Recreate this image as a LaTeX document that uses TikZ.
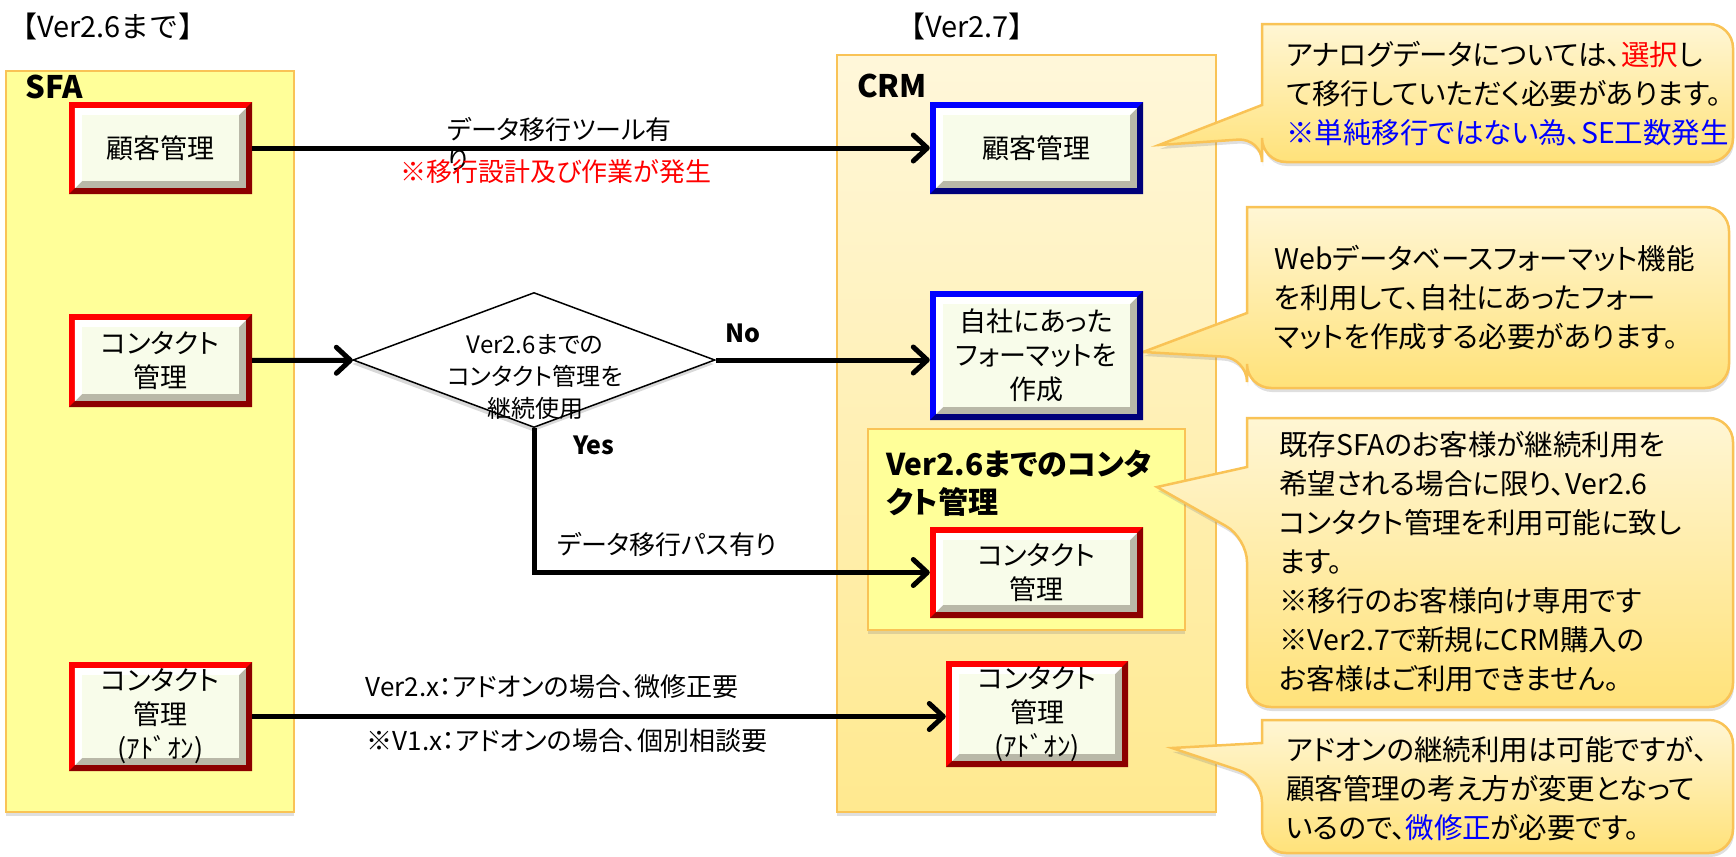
\documentclass[tikz,border=0pt]{standalone}
\usepackage{fontspec}
\setmainfont{Noto Sans CJK JP}[RawFeature=+palt]
\newfontfamily\widefont{Noto Sans CJK JP}
\usepackage{xcolor}
\definecolor{sfa-fill}{HTML}{FFFF99}
\definecolor{panel-edge}{HTML}{F9C356}
\definecolor{crm-top}{HTML}{FFF7DA}
\definecolor{crm-bottom}{HTML}{FFE98F}
\definecolor{bub-top}{HTML}{FFF6D4}
\definecolor{bub-bottom}{HTML}{FFE27A}
\definecolor{face}{HTML}{F8FCEA}
\definecolor{face-dark}{HTML}{B9B8A8}
\definecolor{red-dark}{HTML}{8C0000}
\definecolor{blue-dark}{HTML}{00007A}
\usepackage{tikz}
\usetikzlibrary{shapes.geometric}
\usetikzlibrary{arrows.meta}
\usetikzlibrary{shadows}
\newcommand{\bxfont}{\fontsize{27bp}{34bp}\selectfont}
\newcommand{\lblfont}{\fontsize{26bp}{30bp}\selectfont}
\newcommand{\bubfont}{\fontsize{28.5bp}{39bp}\selectfont}
\newcommand{\diafont}{\fontsize{24bp}{32bp}\selectfont}
\newcommand{\ttlfont}{\fontsize{31bp}{38bp}\selectfont\bfseries}
\tikzset{panel/.style = {draw=panel-edge, line width=2bp, inner sep=0pt, drop shadow={shadow xshift=0bp, shadow yshift=-4bp, opacity=0.25}}}
\tikzset{bevel/.style 2 args = {fill=face, inner sep=0pt, align=center, font=\bxfont,
  path picture={
    \coordinate (pa) at (path picture bounding box.north west);
    \coordinate (pb) at (path picture bounding box.north east);
    \coordinate (pc) at (path picture bounding box.south east);
    \coordinate (pd) at (path picture bounding box.south west);
    \fill[#1] (pa) rectangle (pc);
    \fill[#2] (pb) -- (pc) -- (pd) -- ([shift={(6bp,6bp)}]pd) -- ([shift={(-6bp,6bp)}]pc) -- ([shift={(-6bp,-6bp)}]pb) -- cycle;
    \fill[face-dark] ([shift={(6bp,-6bp)}]pa) rectangle ([shift={(-6bp,6bp)}]pc);
    \fill[white] ([shift={(6bp,-6bp)}]pa) -- ([shift={(-6bp,-6bp)}]pb) -- ([shift={(-13bp,-13bp)}]pb) -- ([shift={(13bp,-13bp)}]pa) -- ([shift={(13bp,13bp)}]pd) -- ([shift={(6bp,6bp)}]pd) -- cycle;
    \fill[face] ([shift={(13bp,-13bp)}]pa) rectangle ([shift={(-13bp,13bp)}]pc);
  }}}
\tikzset{redbox/.style = {bevel={red}{red-dark}}}
\tikzset{bluebox/.style = {bevel={blue}{blue-dark}}}
\tikzset{decision/.style = {shape=diamond, draw, line width=1.5bp, fill=white, inner sep=0pt, minimum width=362bp, minimum height=135bp, drop shadow={shadow xshift=-1bp, shadow yshift=-4bp, opacity=0.3}}}
\tikzset{lbl/.style = {inner sep=0pt, font=\lblfont}}
\tikzset{bold lbl/.style = {inner sep=0pt, font=\fontsize{25bp}{28bp}\selectfont\bfseries}}
\tikzset{bubtext/.style = {inner sep=0pt, anchor=north west, align=left, font=\bubfont}}
\tikzset{bubble/.style = {draw=panel-edge, line width=2.5bp, top color=bub-top, bottom color=bub-bottom, drop shadow={shadow xshift=1bp, shadow yshift=-4bp, opacity=0.25}}}
\tikzset{arr/.style = {line width=5bp, -{Straight Barb[length=14bp, width=26bp, line width=5bp, round]}}}
% left right top bottom, pointer base, pointer tip
\newcommand{\bubble}[8]{%
  \draw[bubble] ({(#1+#3)/2},#2) [rounded corners=24bp] -- (#3,#2) -- (#3,#4) -- (#1,#4) -- (#1,#6) [sharp corners] -- (#7,#8) -- (#1,#5) -- (#1,#2) [rounded corners=24bp] -- cycle;}

\begin{document}
\begin{tikzpicture}[x=1bp, y=-1bp]
\useasboundingbox (0,0) rectangle (1736,857);

% panels
\node[panel, fill=sfa-fill, minimum width=288bp, minimum height=741bp] (sfa) at (150,441.5) {};
\node[panel, top color=crm-top, bottom color=crm-bottom, minimum width=379bp, minimum height=757bp] (crm) at (1026.5,433.5) {};
\node[panel, fill=sfa-fill, minimum width=317bp, minimum height=201bp] (old) at (1026.5,529.5) {};

\node[inner sep=0pt, font=\widefont\fontsize{29bp}{34bp}\selectfont, anchor=west] (h26) at (8,26) {【Ver2.6まで】};
\node[inner sep=0pt, font=\widefont\fontsize{29bp}{34bp}\selectfont] (h27) at (967,26) {【Ver2.7】};
\node[inner sep=0pt, font=\ttlfont, anchor=base west] (sfat) at (25,98) {SFA};
\node[inner sep=0pt, font=\ttlfont, anchor=base west] (crmt) at (857,97) {CRM};
\node[inner sep=0pt, font=\fontsize{30bp}{38bp}\selectfont\bfseries, anchor=north west, align=left] (oldt) at (886,450) {Ver2.6までのコンタ\\クト管理};

% callouts
\bubble{1262}{24}{1733}{162}{105}{138}{1159}{145}
\bubble{1247}{207}{1729}{388}{313}{358}{1143}{352}
\bubble{1247}{418}{1733}{707}{467}{538}{1157}{487}
\bubble{1262}{720}{1733}{853}{743}{778}{1172}{748}

\node[bubtext] (bt1) at (1286,41) {アナログデータについては、\textcolor{red}{選択}し\\て移行していただく必要があります。\\\textcolor{blue}{※単純移行ではない為、SE工数発生}};
\node[bubtext] (bt2) at (1274,245) {Webデータベースフォーマット機能\\を利用して、自社にあったフォー\\マットを作成する必要があります。};
\node[bubtext] (bt3) at (1279,431) {既存SFAのお客様が継続利用を\\希望される場合に限り、Ver2.6\\コンタクト管理を利用可能に致し\\ます。\\※移行のお客様向け専用です\\※Ver2.7で新規にCRM購入の\\お客様はご利用できません。};
\node[bubtext] (bt4) at (1286,736) {アドオンの継続利用は可能ですが、\\顧客管理の考え方が変更となって\\いるので、\textcolor{blue}{微修正}が必要です。};

% boxes
\node[redbox, minimum width=183bp, minimum height=92bp] (lk) at (160.5,148) {顧客管理};
\node[redbox, minimum width=183bp, minimum height=93bp] (lc) at (160.5,360.5) {コンタクト\\管理};
\node[redbox, minimum width=183bp, minimum height=109bp] (la) at (160.5,716.5) {コンタクト\\管理\\(ｱﾄﾞｵﾝ)};
\node[bluebox, minimum width=213bp, minimum height=92bp] (rk) at (1036.5,148) {顧客管理};
\node[bluebox, minimum width=213bp, minimum height=129bp] (rj) at (1036.5,355.5) {自社にあった\\フォーマットを\\作成};
\node[redbox, minimum width=213bp, minimum height=91bp] (rc) at (1036.5,572.5) {コンタクト\\管理};
\node[redbox, minimum width=182bp, minimum height=106bp] (ra) at (1037,714) {コンタクト\\管理\\(ｱﾄﾞｵﾝ)};

\node[decision] (dia) at (534,360) {};
\node[inner sep=0pt, font=\diafont, align=center] (diat) at (535,377) {Ver2.6までの\\コンタクト管理を\\継続使用};

% labels
\node[lbl, align=left, anchor=west] (l1) at (447,144) {データ移行ツール有\\り};
\node[lbl, text=red] (l2) at (556,172) {※移行設計及び作業が発生};
\node[bold lbl] (lno) at (743,333) {No};
\node[bold lbl] (lyes) at (594,445) {Yes};
\node[lbl] (l3) at (667,544) {データ移行パス有り};
\node[lbl] (l4) at (552,687) {Ver2.x：アドオンの場合、微修正要};
\node[lbl] (l5) at (567,741) {※V1.x：アドオンの場合、個別相談要};

\draw[arr] (lk) -- (rk);
\draw[arr] (lc) -- (dia);
\draw[arr] (dia.east) -- (dia.east -| rj.west);
\draw[arr] (dia.south) |- (rc.west);
\draw[arr] (la.east) -- (la.east -| ra.west);

\end{tikzpicture}
\end{document}
